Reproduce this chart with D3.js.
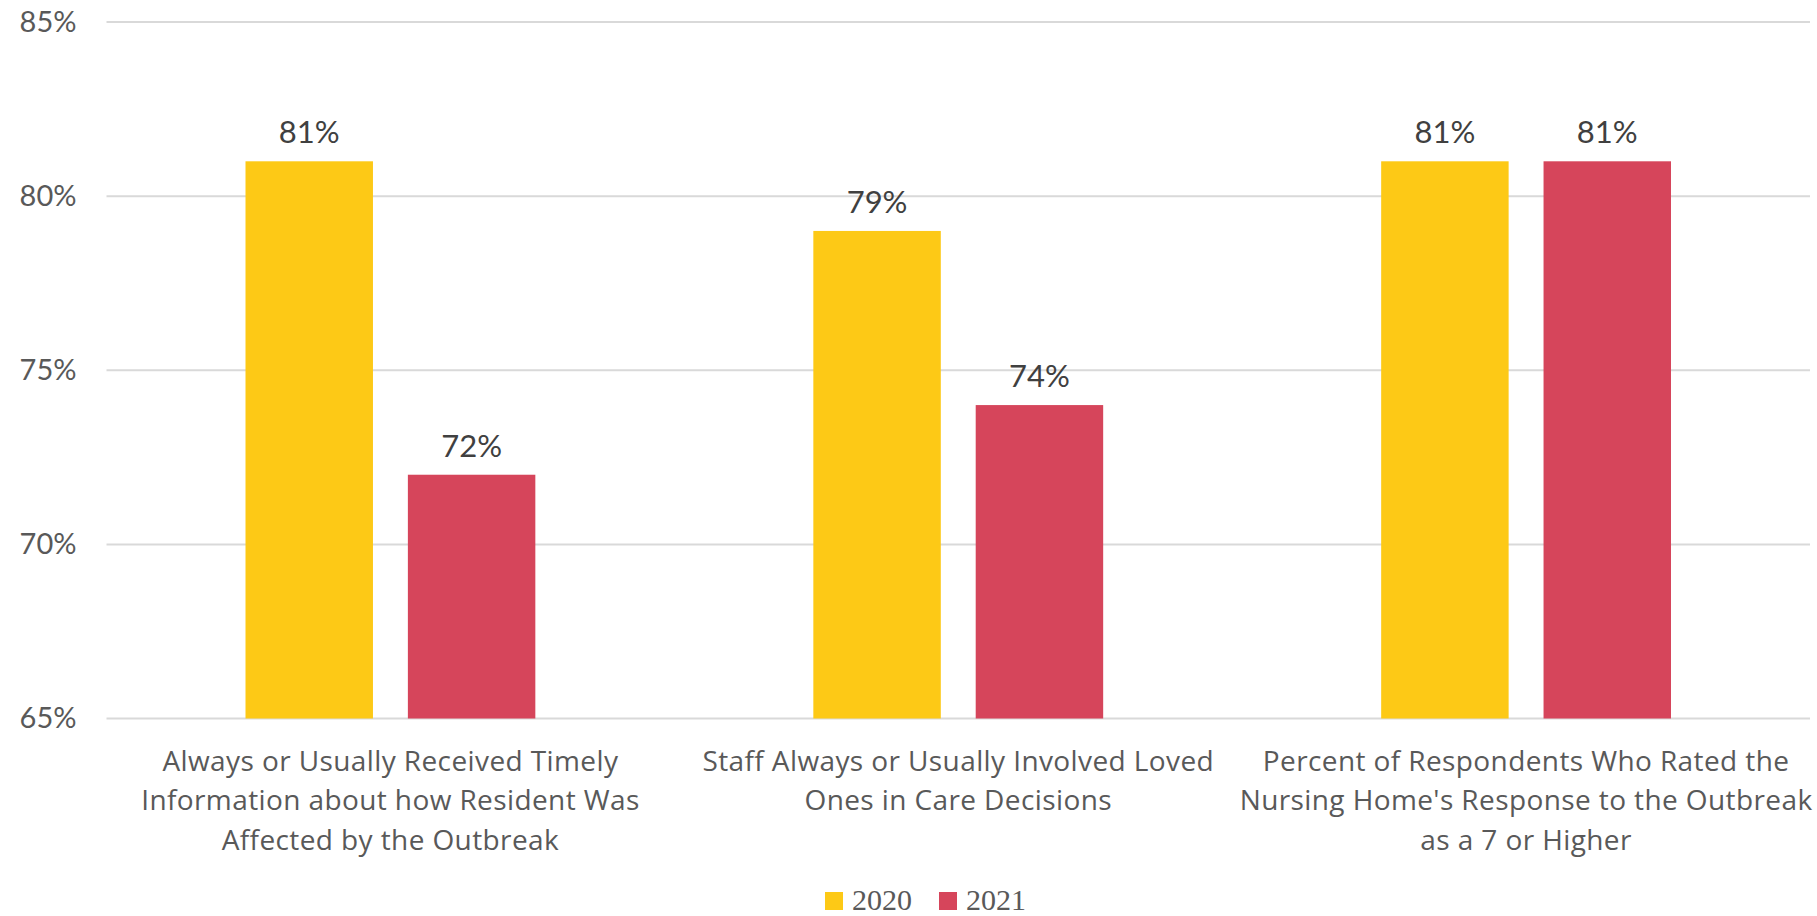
<!DOCTYPE html>
<html>
<head>
<meta charset="utf-8">
<script src="https://cdn.jsdelivr.net/npm/d3@7"></script>
<style>
  body { margin: 0; background: #fff; }
  svg { display: block; }
</style>
</head>
<body>
<script>
// data
var categories = [
  ["Always or Usually Received Timely", "Information about how Resident Was", "Affected by the Outbreak"],
  ["Staff Always or Usually Involved Loved", "Ones in Care Decisions"],
  ["Percent of Respondents Who Rated the", "Nursing Home's Response to the Outbreak", "as a 7 or Higher"]
];
var seriesNames = ["2020", "2021"];
var values2020 = [81, 79, 81];
var values2021 = [72, 74, 81];
var yTicks = [65, 70, 75, 80, 85];
var colors = ["#FDC916", "#D6455B"];

var W = 1817, H = 916;
var margin = { top: 22, right: 7, bottom: 197.5, left: 106.5 },
    width = W - margin.left - margin.right,
    height = H - margin.top - margin.bottom;

var svg = d3.select("body").append("svg")
    .attr("width", W)
    .attr("height", H);

var g = svg.append("g")
    .attr("transform", "translate(" + margin.left + "," + margin.top + ")");

// scales
var x0 = d3.scaleBand().domain(d3.range(categories.length)).range([0, width]).paddingInner(0).paddingOuter(0);
var x1 = d3.scaleBand().domain(seriesNames).range([139, x0.bandwidth() - 139]).paddingInner(0.215).paddingOuter(0);
var y = d3.scaleLinear().domain([65, 85]).range([height, 0]);

// gridlines
g.selectAll(".grid")
    .data(yTicks)
    .enter().append("line")
    .attr("class", "grid")
    .attr("x1", 0).attr("x2", width)
    .attr("y1", function (d) { return y(d); })
    .attr("y2", function (d) { return y(d); })
    .attr("stroke", "#d9d9d9")
    .attr("stroke-width", 2);

// y axis labels
var yAxis = d3.axisLeft(y).tickValues(yTicks).tickSize(0).tickPadding(30)
    .tickFormat(function (d) { return d + "%"; });
var ya = g.append("g").call(yAxis);
ya.select(".domain").remove();
ya.selectAll("text")
    .attr("font-family", "'Century Gothic', 'URW Gothic', 'Lato', sans-serif")
    .attr("font-size", 29)
    .attr("fill", "#595959");

// bars
var rows = categories.map(function (c, i) {
  return { i: i, vals: [values2020[i], values2021[i]] };
});

var groups = g.selectAll(".grp")
    .data(rows)
    .enter().append("g")
    .attr("class", "grp")
    .attr("transform", function (d) { return "translate(" + x0(d.i) + ",0)"; });

groups.selectAll("rect")
    .data(function (d) { return d.vals.map(function (v, k) { return { s: seriesNames[k], v: v, k: k }; }); })
    .enter().append("rect")
    .attr("x", function (d) { return x1(d.s); })
    .attr("width", x1.bandwidth())
    .attr("y", function (d) { return y(d.v); })
    .attr("height", function (d) { return height - y(d.v); })
    .attr("fill", function (d) { return colors[d.k]; });

groups.selectAll(".lbl")
    .data(function (d) { return d.vals.map(function (v, k) { return { s: seriesNames[k], v: v }; }); })
    .enter().append("text")
    .attr("class", "lbl")
    .attr("x", function (d) { return x1(d.s) + x1.bandwidth() / 2; })
    .attr("y", function (d) { return y(d.v) - 18; })
    .attr("text-anchor", "middle")
    .attr("font-family", "'Century Gothic', 'URW Gothic', 'Lato', sans-serif")
    .attr("font-size", 31)
    .attr("fill", "#404040")
    .text(function (d) { return d.v + "%"; });

// category labels
groups.append("text")
    .attr("text-anchor", "middle")
    .attr("font-family", "'Open Sans', sans-serif")
    .attr("font-size", 28)
    .attr("letter-spacing", 0.4)
    .attr("fill", "#595959")
    .selectAll("tspan")
    .data(function (d) { return categories[d.i]; })
    .enter().append("tspan")
    .attr("x", x0.bandwidth() / 2)
    .attr("y", function (d, j) { return height + 52 + j * 39.6; })
    .text(function (d) { return d; });

// legend
var legend = svg.append("g").attr("transform", "translate(825,892)");
var legItems = legend.selectAll("g")
    .data(seriesNames)
    .enter().append("g")
    .attr("transform", function (d, i) { return "translate(" + (i * 114) + ",0)"; });
legItems.append("rect")
    .attr("width", 18).attr("height", 18)
    .attr("fill", function (d, i) { return colors[i]; });
legItems.append("text")
    .attr("x", 27).attr("y", 18)
    .attr("font-family", "'Liberation Serif', serif")
    .attr("font-size", 30)
    .attr("fill", "#595959")
    .text(function (d) { return d; });
</script>
</body>
</html>
